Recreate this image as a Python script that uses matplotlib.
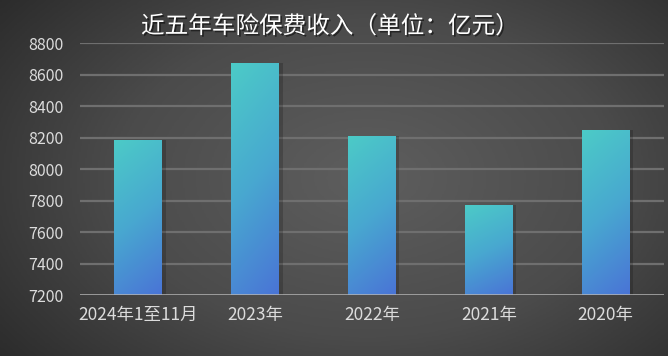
import numpy as np
import matplotlib.pyplot as plt
from matplotlib.colors import LinearSegmentedColormap
import matplotlib.patheffects as pe

plt.rcParams['font.family'] = ['Noto Sans CJK SC', 'DejaVu Sans']

categories = ["2024年1至11月", "2023年", "2022年", "2021年", "2020年"]
values = [8185, 8673, 8210, 7773, 8245]
yticks = [7200, 7400, 7600, 7800, 8000, 8200, 8400, 8600, 8800]
title = "近五年车险保费收入（单位：亿元）"

fig = plt.figure(figsize=(6.68, 3.56), dpi=100)

# background: dark radial gradient
bg = fig.add_axes([0, 0, 1, 1], zorder=0)
gx, gy = np.meshgrid(np.linspace(0, 1, 400), np.linspace(0, 1, 220))
r = np.sqrt(((gx - 0.55) / 0.75) ** 2 + ((gy - 0.5) / 0.9) ** 2)
bg_cmap = LinearSegmentedColormap.from_list("bg", ["#5e5e5e", "#4b4b4b", "#262626"])
bg.imshow(np.clip(r, 0, 1), cmap=bg_cmap, aspect="auto", extent=[0, 1, 0, 1],
          origin="lower", vmin=0, vmax=1)
bg.axis("off")

ax = fig.add_axes([0.1198, 0.1713, 0.8742, 0.7077], zorder=1)
ax.patch.set_alpha(0)

x = np.arange(len(categories))
bars = ax.bar(x, [v - 7200 for v in values], bottom=7200, width=0.41,
              color="none", zorder=3)

bar_cmap = LinearSegmentedColormap.from_list("bar", ["#4a74d6", "#48a8d0", "#4ccbc7"])
grad = np.linspace(0, 1, 100)
gxx, gyy = np.meshgrid(grad, grad)
diag = np.clip(gyy * 0.8 + (1 - gxx) * 0.2, 0, 1)
for b in bars:
    x0, y0 = b.get_x(), b.get_y()
    w, h = b.get_width(), b.get_height()
    # soft shadow
    ax.bar(x0 + w / 2 + 0.03, h, bottom=y0, width=w, color="#000000",
           alpha=0.18, zorder=2)
    im = ax.imshow(diag, cmap=bar_cmap, extent=[x0, x0 + w, y0, y0 + h],
                   origin="lower", aspect="auto", zorder=3, vmin=0, vmax=1)
    im.set_clip_path(b)

ax.set_xlim(-0.5, len(categories) - 0.5)
ax.set_ylim(7200, 8800)
ax.set_yticks(yticks)
ax.set_yticklabels([str(t) for t in yticks])
ax.set_xticks(x)
ax.set_xticklabels(categories)

for t in yticks[1:]:
    ax.axhline(t, color="#6f6f6f", lw=1.6, zorder=1)
ax.axhline(7200, color="#b5b5b5", lw=1.8, zorder=4)

for s in ax.spines.values():
    s.set_visible(False)
ax.tick_params(axis="both", length=0, colors="#dcdcdc")
ax.tick_params(axis="y", pad=12, labelsize=11.5)
ax.tick_params(axis="x", pad=8, labelsize=12.5)

fig.text(0.494, 0.925, title, ha="center", va="center", fontsize=17,
         color="white", fontweight="medium",
         path_effects=[pe.withSimplePatchShadow(offset=(1.2, -1.2),
                                                shadow_rgbFace="black", alpha=0.5)])

fig.savefig("out.png", dpi=100)
